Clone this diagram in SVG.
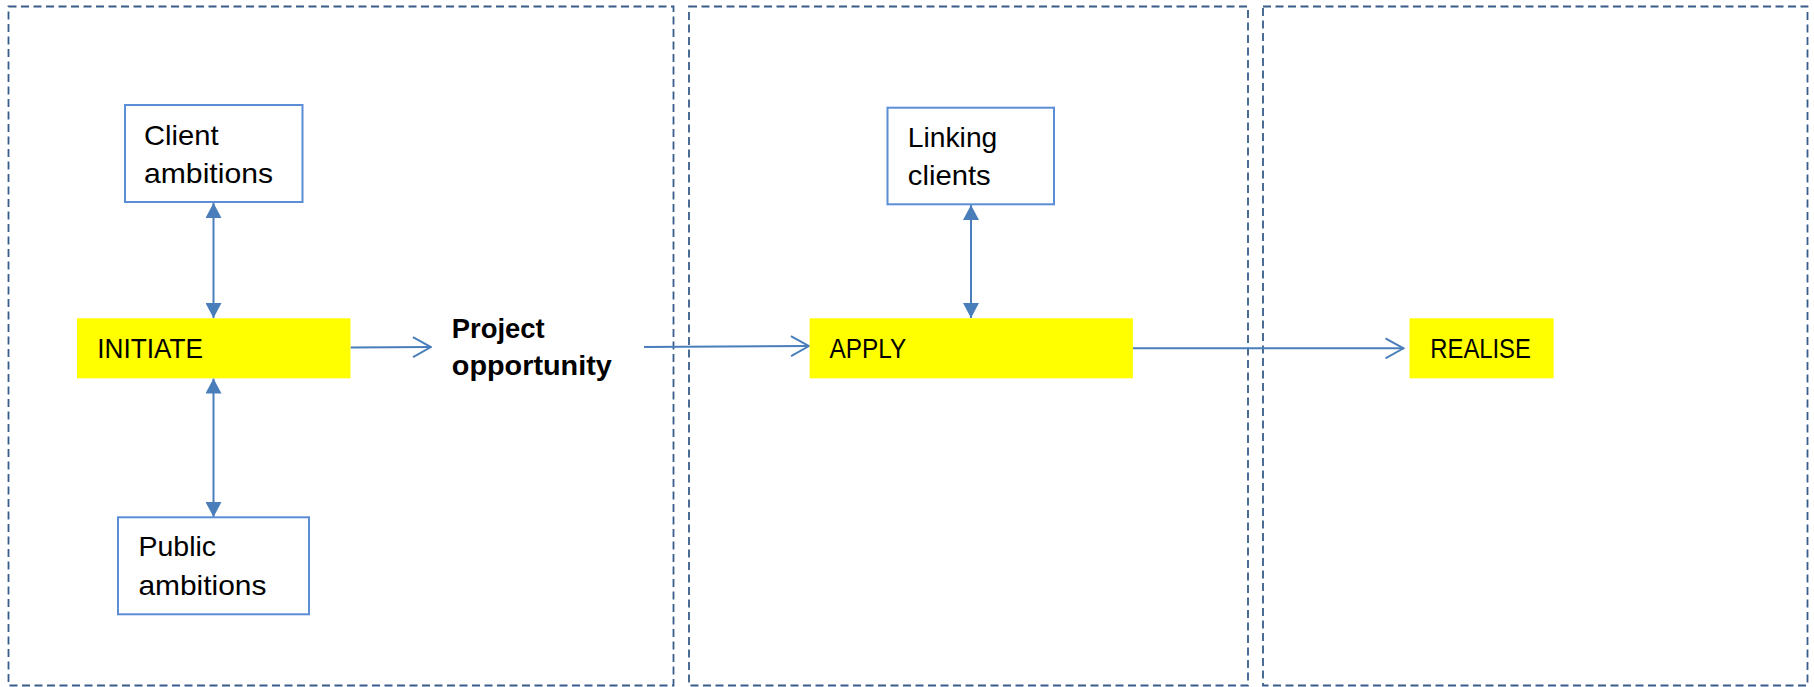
<svg xmlns="http://www.w3.org/2000/svg" width="1814" height="687" viewBox="0 0 1814 687">
<defs>
<style>
.panel{fill:none;stroke:#385D8A;stroke-width:1.8;stroke-dasharray:8 4.5}
.box{fill:#fff;stroke:#5B8ED6;stroke-width:2}
.stage{fill:#FFFF00}
.t{font-family:"Liberation Sans",Arial,sans-serif;font-size:28px;fill:#000}
.b{font-weight:bold}
.c{fill:none;stroke:#4A7EBB;stroke-width:2}
</style>
<marker id="tri" viewBox="0 0 10 10" refX="10" refY="5" markerWidth="15" markerHeight="16" markerUnits="userSpaceOnUse" orient="auto-start-reverse" preserveAspectRatio="none">
<path d="M0,0 L10,5 L0,10 Z" fill="#4A7EBB"/>
</marker>
<marker id="open" viewBox="0 0 20 22" refX="19" refY="11" markerWidth="20" markerHeight="22" markerUnits="userSpaceOnUse" orient="auto">
<path d="M1,1 L19,11 L1,21" fill="none" stroke="#4A7EBB" stroke-width="2"/>
</marker>
</defs>
<g id="panels">
<rect class="panel" x="8.5" y="6.5" width="665" height="679"/>
<rect class="panel" x="689" y="6.5" width="559" height="679"/>
<rect class="panel" x="1263" y="6.5" width="544.5" height="679"/>
</g>
<g id="connectors">
<line class="c" x1="213.5" y1="203" x2="213.5" y2="318" marker-start="url(#tri)" marker-end="url(#tri)"/>
<line class="c" x1="213.5" y1="378.5" x2="213.5" y2="517" marker-start="url(#tri)" marker-end="url(#tri)"/>
<line class="c" x1="350.5" y1="347.5" x2="431" y2="347" marker-end="url(#open)"/>
<line class="c" x1="644" y1="347" x2="809" y2="346" marker-end="url(#open)"/>
<line class="c" x1="971" y1="205" x2="971" y2="318" marker-start="url(#tri)" marker-end="url(#tri)"/>
<line class="c" x1="1133" y1="348.3" x2="1403.5" y2="348.3" marker-end="url(#open)"/>
</g>
<g id="client-ambitions">
<rect class="box" x="125" y="105" width="177.5" height="97"/>
<text class="t" x="144" y="145" textLength="74.5" lengthAdjust="spacingAndGlyphs">Client</text>
<text class="t" x="144" y="183" textLength="129" lengthAdjust="spacingAndGlyphs">ambitions</text>
</g>
<g id="initiate">
<rect class="stage" x="77" y="318.3" width="273.5" height="60"/>
<text class="t" x="97.3" y="358.3" textLength="105.8" lengthAdjust="spacingAndGlyphs">INITIATE</text>
</g>
<g id="public-ambitions">
<rect class="box" x="118" y="517.3" width="191" height="97"/>
<text class="t" x="138.4" y="556" textLength="77.7" lengthAdjust="spacingAndGlyphs">Public</text>
<text class="t" x="138.4" y="595" textLength="128.1" lengthAdjust="spacingAndGlyphs">ambitions</text>
</g>
<g id="project-opportunity">
<text class="t b" x="451.8" y="337.7" textLength="92.9" lengthAdjust="spacingAndGlyphs">Project</text>
<text class="t b" x="451.8" y="375" textLength="160" lengthAdjust="spacingAndGlyphs">opportunity</text>
</g>
<g id="apply">
<rect class="stage" x="809.6" y="318.3" width="323.3" height="60"/>
<text class="t" x="829.5" y="358.3" textLength="76.7" lengthAdjust="spacingAndGlyphs">APPLY</text>
</g>
<g id="linking-clients">
<rect class="box" x="887.5" y="107.7" width="166.5" height="96.6"/>
<text class="t" x="907.8" y="146.7" textLength="89.5" lengthAdjust="spacingAndGlyphs">Linking</text>
<text class="t" x="907.8" y="185" textLength="82.9" lengthAdjust="spacingAndGlyphs">clients</text>
</g>
<g id="realise">
<rect class="stage" x="1409.5" y="318.3" width="144.1" height="60"/>
<text class="t" x="1430.3" y="358.3" textLength="100.6" lengthAdjust="spacingAndGlyphs">REALISE</text>
</g>
</svg>
